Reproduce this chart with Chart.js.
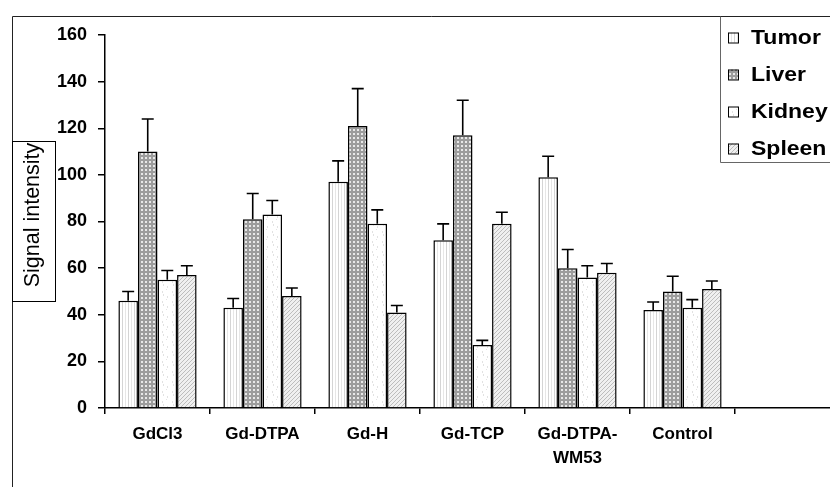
<!DOCTYPE html>
<html><head><meta charset="utf-8">
<script src="https://cdn.jsdelivr.net/npm/chart.js@4/dist/chart.umd.min.js"></script>
<style>
html,body{margin:0;padding:0;background:#fff;overflow:hidden;}
#wrap{width:830px;height:487px;overflow:hidden;position:relative;}
canvas{display:block;}
</style></head>
<body>
<div id="wrap"><canvas id="c" width="850" height="487"></canvas></div>
<script>
const categories = ['GdCl3','Gd-DTPA','Gd-H','Gd-TCP',['Gd-DTPA-','WM53'],'Control',''];
const seriesNames = ['Tumor','Liver','Kidney','Spleen'];
const tumor = [46,43,97,72,99,42,null];
const tumorErr = [4,4,9,7,9,3.5,null];
const liver = [110,81,121,117,60,50,null];
const liverErr = [14,11,16,15,8,6.5,null];
const kidney = [55,83,79,27,56,43,null];
const kidneyErr = [4,6,6,2,5,3.5,null];
const spleen = [57,48,41,79,58,51,null];
const spleenErr = [4,3.5,3,5,4,3.5,null];
const yTicks = [0,20,40,60,80,100,120,140,160];
const yTitle = 'Signal intensity';

function makePattern(w,h,draw){
  const cv=document.createElement('canvas');cv.width=w;cv.height=h;
  const g=cv.getContext('2d');draw(g);
  return document.getElementById('c').getContext('2d').createPattern(cv,'repeat');
}
const pTumor = makePattern(6,4,g=>{g.fillStyle='#fff';g.fillRect(0,0,6,4);g.fillStyle='#d4d4d4';g.fillRect(2,0,1,4);g.fillStyle='#e6e6e6';g.fillRect(5,0,1,4);});
const pLiver = makePattern(4,4,g=>{g.fillStyle='#9c9c9c';g.fillRect(0,0,4,4);g.fillStyle='#e8e8e8';g.fillRect(1,1,2,2);});
const pKidney = makePattern(10,10,g=>{g.fillStyle='#fff';g.fillRect(0,0,10,10);g.fillStyle='#e2e2e2';g.fillRect(2,1,1,2);g.fillRect(3,4,1,2);g.fillRect(7,6,1,2);g.fillRect(6,9,1,1);});
const pSpleen = makePattern(4,4,g=>{g.fillStyle='#f0f0f0';g.fillRect(0,0,4,4);g.fillStyle='#bdbdbd';for(let i=0;i<4;i++){g.fillRect(i,3-i,1,1);} });
const fills=[pTumor,pLiver,pKidney,pSpleen];
const values=[tumor,liver,kidney,spleen];
const errs=[tumorErr,liverErr,kidneyErr,spleenErr];
const FONT='"Liberation Sans", Arial, sans-serif';

const errorBars={id:'errorBars',afterDatasetsDraw(chart){
  const ctx=chart.ctx, ys=chart.scales.y;
  ctx.save();ctx.strokeStyle='#000';ctx.lineWidth=1.6;
  chart.data.datasets.forEach((ds,di)=>{
    const meta=chart.getDatasetMeta(di);
    meta.data.forEach((bar,i)=>{
      const v=ds.data[i], e=errs[di][i];
      if(v==null||e==null) return;
      const yt=ys.getPixelForValue(v+e), yb=ys.getPixelForValue(v);
      ctx.beginPath();ctx.moveTo(bar.x,yb);ctx.lineTo(bar.x,yt);
      ctx.moveTo(bar.x-6,yt);ctx.lineTo(bar.x+6,yt);ctx.stroke();
    });
  });
  ctx.restore();
}};

const decor={id:'decor',afterDraw(chart){
  const ctx=chart.ctx;
  ctx.save();
  ctx.strokeStyle='#222';ctx.lineWidth=1;
  ctx.beginPath();ctx.moveTo(12.5,487);ctx.lineTo(12.5,16.5);ctx.lineTo(850,16.5);ctx.stroke();
  ctx.fillStyle='#fff';ctx.fillRect(12.5,141.5,43,160);
  ctx.strokeStyle='#000';ctx.strokeRect(12.5,141.5,43,160);
  ctx.save();
  ctx.beginPath();ctx.rect(13,142,42,159);ctx.clip();
  ctx.translate(38.5,215);ctx.rotate(-Math.PI/2);
  ctx.fillStyle='#000';ctx.font='21.5px '+FONT;
  ctx.textAlign='center';ctx.textBaseline='alphabetic';
  ctx.fillText(yTitle,0,0);
  ctx.restore();
  ctx.fillStyle='#fff';ctx.fillRect(720.5,17,130,145.5);
  ctx.strokeStyle='#666';ctx.lineWidth=1;
  ctx.beginPath();ctx.moveTo(720.5,16.5);ctx.lineTo(720.5,162.5);ctx.lineTo(850,162.5);ctx.stroke();
  ctx.font='bold 20px '+FONT;
  ctx.textAlign='left';ctx.textBaseline='middle';
  chart.data.datasets.forEach((ds,i)=>{
    const cy=37.5+i*37;
    ctx.fillStyle=ds.backgroundColor;ctx.fillRect(728,cy-5,10,10);
    ctx.strokeStyle='#000';ctx.lineWidth=1;ctx.strokeRect(728.5,cy-4.5,10,10);
    ctx.save();ctx.translate(751,cy+1);ctx.scale(1.15,1);
    ctx.fillStyle='#000';ctx.fillText(ds.label,0,0);
    ctx.restore();
  });
  ctx.restore();
}};

new Chart(document.getElementById('c'),{
  type:'bar',
  data:{labels:categories,datasets:seriesNames.map((n,i)=>({
    label:n,data:values[i],backgroundColor:fills[i],borderColor:'#000',borderWidth:1.5,
    borderSkipped:'start',categoryPercentage:0.745,barPercentage:1.0
  }))},
  options:{
    responsive:false,animation:false,
    layout:{padding:{left:0,right:10,top:35,bottom:0}},
    plugins:{legend:{display:false},tooltip:{enabled:false}},
    scales:{
      x:{offset:true,
        grid:{offset:true,drawOnChartArea:false,drawTicks:true,tickLength:6,color:'#000',lineWidth:1.5},
        border:{color:'#000',width:1.5},
        ticks:{color:'#000',padding:9,maxRotation:0,autoSkip:false,
          font:{family:FONT,size:17,weight:'bold',lineHeight:1.37}},
        afterFit(s){s.height=79;}
      },
      y:{min:0,max:160,
        afterBuildTicks(s){s.ticks=yTicks.map(v=>({value:v}));},
        grid:{drawOnChartArea:false,drawTicks:true,tickLength:7,color:'#000',lineWidth:1.5},
        border:{color:'#000',width:1.5},
        ticks:{color:'#000',padding:11,
          font:{family:FONT,size:18,weight:'bold'}},
        afterFit(s){s.width=105;}
      }
    }
  },
  plugins:[errorBars,decor]
});
</script>
</body></html>
